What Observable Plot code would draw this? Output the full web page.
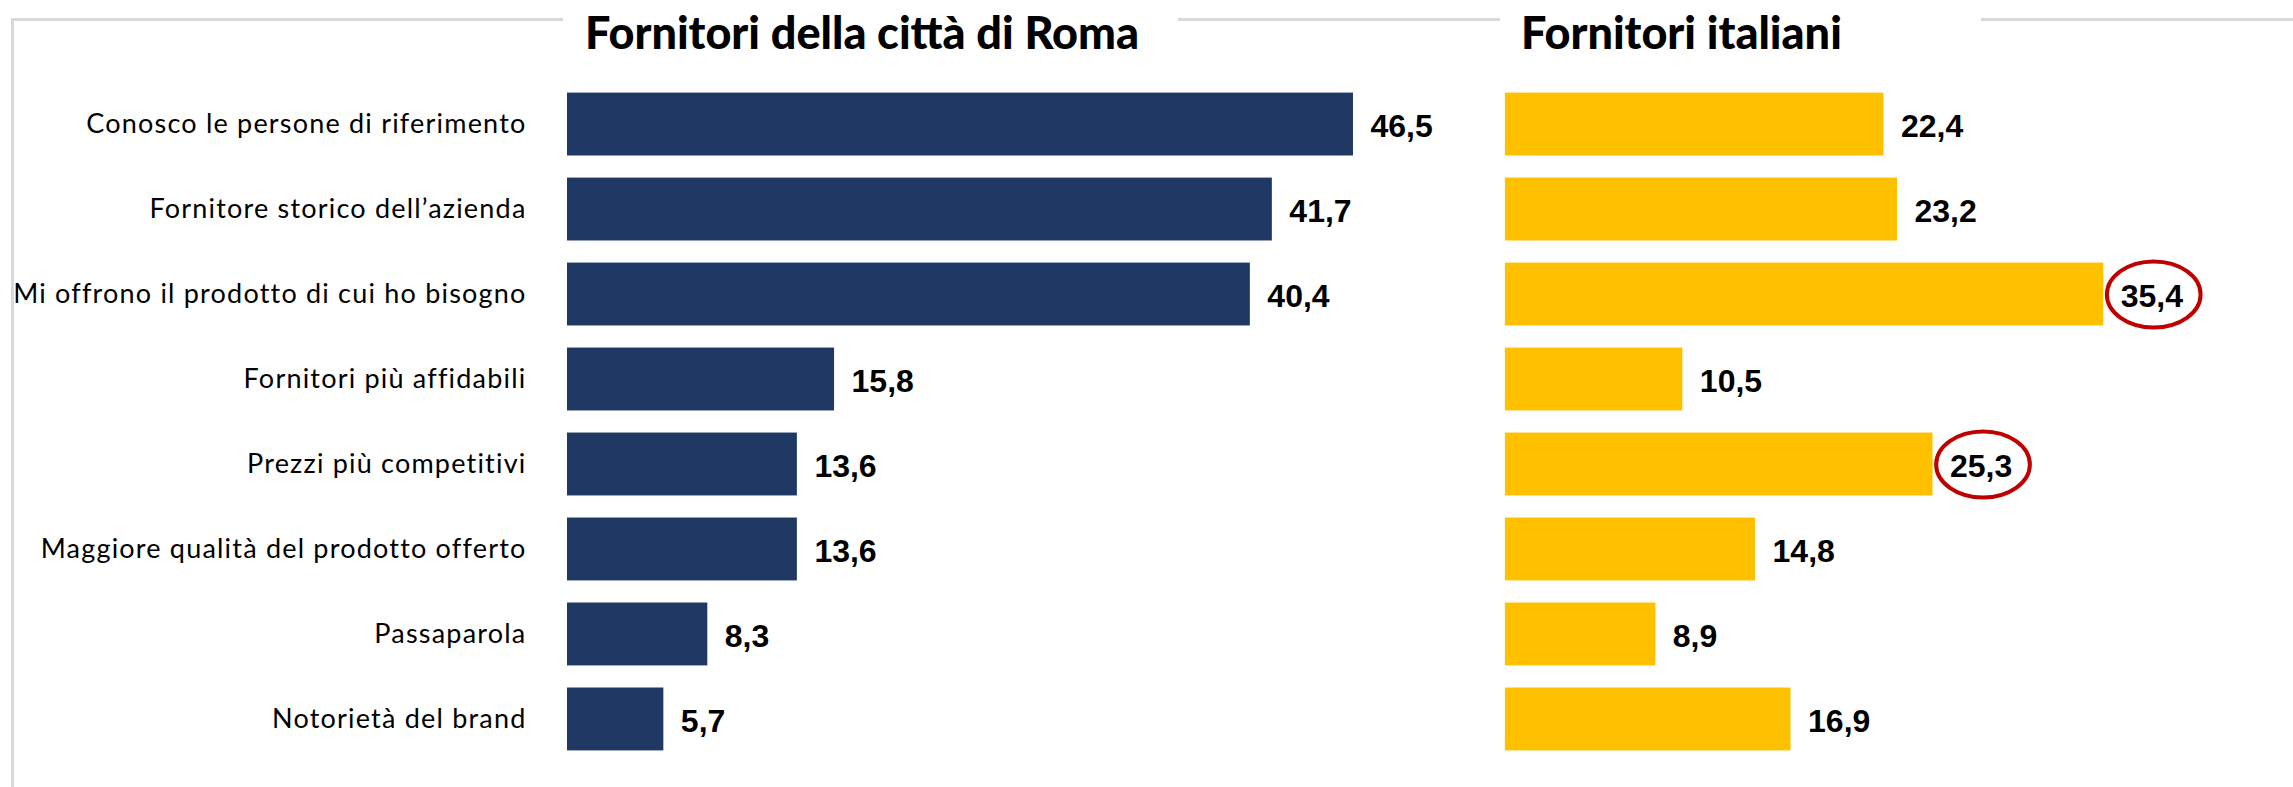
<!DOCTYPE html>
<html>
<head>
<meta charset="utf-8">
<script src="https://cdn.jsdelivr.net/npm/d3@7"></script>
<script src="https://cdn.jsdelivr.net/npm/@observablehq/plot@0.6"></script>
<style>
  html, body { margin: 0; padding: 0; background: #fff; }
  #wrap { position: relative; width: 2293px; height: 787px; overflow: hidden; }
  #frame { position: absolute; left: 11px; top: 18px; width: 2400px; height: 900px;
           border-top: 3px solid #d9d9d9; border-left: 3px solid #d9d9d9; box-sizing: border-box; }
  .title { position: absolute; top: 4px; background: #fff; font-family: Lato, "Open Sans", sans-serif;
           font-weight: 900; font-size: 45px; line-height: 56px; color: #000; white-space: nowrap;
           box-sizing: border-box; }
  #chart { position: absolute; left: 0; top: 0; }
  svg g[aria-label="y-axis tick label"] { letter-spacing: 1.2px; }
</style>
</head>
<body>
<div id="wrap">
  <div id="chart"></div>
  <div id="frame"></div>
  <div class="title" id="t0"></div>
  <div class="title" id="t1"></div>
</div>
<script>
const categories = [
  "Conosco le persone di riferimento",
  "Fornitore storico dell’azienda",
  "Mi offrono il prodotto di cui ho bisogno",
  "Fornitori più affidabili",
  "Prezzi più competitivi",
  "Maggiore qualità del prodotto offerto",
  "Passaparola",
  "Notorietà del brand"
];
const panels = ["Fornitori della città di Roma", "Fornitori italiani"];
const romaValues = [46.5, 41.7, 40.4, 15.8, 13.6, 13.6, 8.3, 5.7];
const italianiValues = [22.4, 23.2, 35.4, 10.5, 25.3, 14.8, 8.9, 16.9];
const highlighted = ["Mi offrono il prodotto di cui ho bisogno", "Prezzi più competitivi"];
const panelColors = ["#203864", "#FFC000"];

const rows = [
  ...categories.map((c, i) => ({panel: panels[0], category: c, value: romaValues[i], hl: false})),
  ...categories.map((c, i) => ({panel: panels[1], category: c, value: italianiValues[i], hl: highlighted.includes(c)}))
];

const fmt = v => v.toFixed(1).replace(".", ",");

// ellipse symbol for highlight rings
const K = 0.5523;
const ellipseSymbol = {
  draw(ctx, size) {
    const ry = Math.sqrt(size / Math.PI), rx = ry * 1.42;
    ctx.moveTo(rx, 0);
    ctx.bezierCurveTo(rx, K * ry, K * rx, ry, 0, ry);
    ctx.bezierCurveTo(-K * rx, ry, -rx, K * ry, -rx, 0);
    ctx.bezierCurveTo(-rx, -K * ry, -K * rx, -ry, 0, -ry);
    ctx.bezierCurveTo(K * rx, -ry, rx, -K * ry, rx, 0);
    ctx.closePath();
  }
};

const chart = Plot.plot({
  width: 2293,
  height: 787,
  marginLeft: 567,
  marginRight: 27.5,
  marginTop: 70.5,
  marginBottom: 14.5,
  style: {background: "transparent", fontFamily: "Lato, 'Open Sans', sans-serif"},
  fx: {domain: panels, paddingInner: 0.189, paddingOuter: 0, axis: null, round: false},
  x: {domain: [0, 45], axis: null},
  y: {domain: categories, padding: 0.26, axis: null, round: false},
  color: {domain: panels, range: panelColors},
  marks: [
    Plot.axisY({tickSize: 0, tickPadding: 41, fontSize: 27, fill: "#000", fontFamily: "Lato, 'Open Sans', sans-serif", label: null}),
    Plot.barX(rows, {fx: "panel", y: "category", x: "value", fill: "panel"}),
    Plot.text(rows, {fx: "panel", y: "category", x: "value", text: d => fmt(d.value),
      textAnchor: "start", dx: 17, dy: 2, fontSize: 32, fontWeight: "bold",
      fontFamily: "'Liberation Sans', Arial, sans-serif", fill: "#000"}),
    Plot.dot(rows.filter(d => d.hl), {fx: "panel", y: "category", x: "value", dx: 50, dy: 0,
      symbol: ellipseSymbol, r: 33, stroke: "#C00000", strokeWidth: 4, fill: "none"})
  ]
});
document.getElementById("chart").appendChild(chart);

const t0 = document.getElementById("t0");
t0.textContent = panels[0];
t0.style.left = "563px"; t0.style.width = "615px"; t0.style.paddingLeft = "22px";
const t1 = document.getElementById("t1");
t1.textContent = panels[1];
t1.style.left = "1500px"; t1.style.width = "481px"; t1.style.paddingLeft = "21px";
</script>
</body>
</html>
